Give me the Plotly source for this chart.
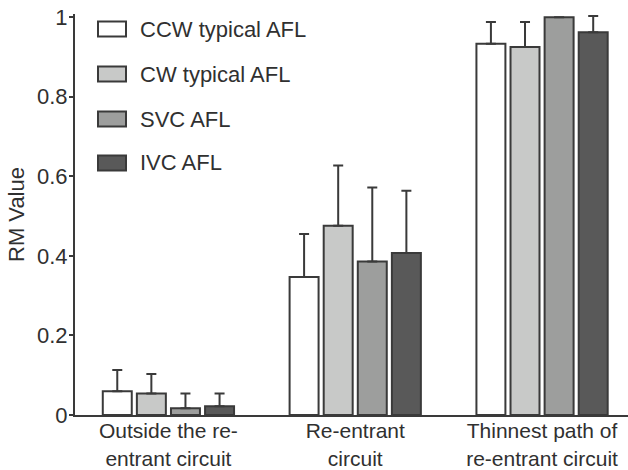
import plotly.graph_objects as go

categories = ["Outside the re-<br>entrant circuit", "Re-entrant<br>circuit", "Thinnest path of<br>re-entrant circuit"]
series_names = ["CCW typical AFL", "CW typical AFL", "SVC AFL", "IVC AFL"]
ccw_vals = [0.060, 0.347, 0.933]
cw_vals = [0.054, 0.476, 0.925]
svc_vals = [0.017, 0.386, 1.000]
ivc_vals = [0.022, 0.407, 0.962]
ccw_err = [0.053, 0.108, 0.055]
cw_err = [0.049, 0.151, 0.063]
svc_err = [0.037, 0.186, 0.0]
ivc_err = [0.032, 0.157, 0.041]
y_tick_vals = [0, 0.2, 0.4, 0.6, 0.8, 1]
y_tick_text = ["0", "0.2", "0.4", "0.6", "0.8", "1"]

values = [ccw_vals, cw_vals, svc_vals, ivc_vals]
errors = [ccw_err, cw_err, svc_err, ivc_err]
colors = ["#ffffff", "#c8c9c8", "#9d9e9d", "#595959"]
edge = "#3a3a3a"
txt = "#303030"
font_family = "Liberation Sans, Arial, sans-serif"

W, H = 628, 470
ML, MR, MT, MB = 75, 0, 14, 55
PW, PH = W - ML - MR, H - MT - MB

fig = go.Figure()
for i, name in enumerate(series_names):
    fig.add_trace(go.Bar(
        x=categories, y=values[i], name=name,
        marker=dict(color=colors[i], line=dict(color=edge, width=2)),
        error_y=dict(type="data", symmetric=False, array=errors[i],
                     arrayminus=[0] * len(errors[i]),
                     color=edge, thickness=2, width=5),
        showlegend=False,
    ))

# manual legend (boxes + labels), placed in paper coordinates
def px_x(px):
    return (px - ML) / PW

def px_y(py):
    return (H - MB - py) / PH

row_centers = [29, 74, 119, 163]
for i, name in enumerate(series_names):
    cy = row_centers[i]
    fig.add_shape(type="rect", xref="paper", yref="paper",
                  x0=px_x(98), x1=px_x(126), y0=px_y(cy + 7.5), y1=px_y(cy - 7.5),
                  fillcolor=colors[i], line=dict(color=edge, width=2))
    fig.add_annotation(xref="paper", yref="paper", x=px_x(138), y=px_y(cy),
                       xanchor="left", yanchor="middle", text=name, showarrow=False,
                       font=dict(size=22, color=txt))

fig.update_layout(
    width=W, height=H,
    margin=dict(l=ML, r=MR, t=MT, b=MB),
    paper_bgcolor="white", plot_bgcolor="white",
    barmode="group", bargap=0.27, bargroupgap=0.15,
    font=dict(family=font_family, size=22, color=txt),
    showlegend=False,
    xaxis=dict(range=[-0.5, 2.46], showline=True, linecolor=edge, linewidth=2,
               ticks="", showgrid=False, zeroline=False, automargin=False,
               ticklabelstandoff=-4,
               tickfont=dict(size=21, color=txt)),
    yaxis=dict(range=[0, 1.008], showline=True, linecolor=edge, linewidth=2,
               ticks="outside", ticklen=4, tickcolor=edge, tickwidth=2,
               tickvals=y_tick_vals, ticktext=y_tick_text,
               showgrid=False, zeroline=False, automargin=False,
               ticklabelstandoff=-3,
               tickfont=dict(size=22, color=txt),
               title=dict(text="RM Value", font=dict(size=22, color=txt), standoff=6)),
)

fig.write_html("out.html")
